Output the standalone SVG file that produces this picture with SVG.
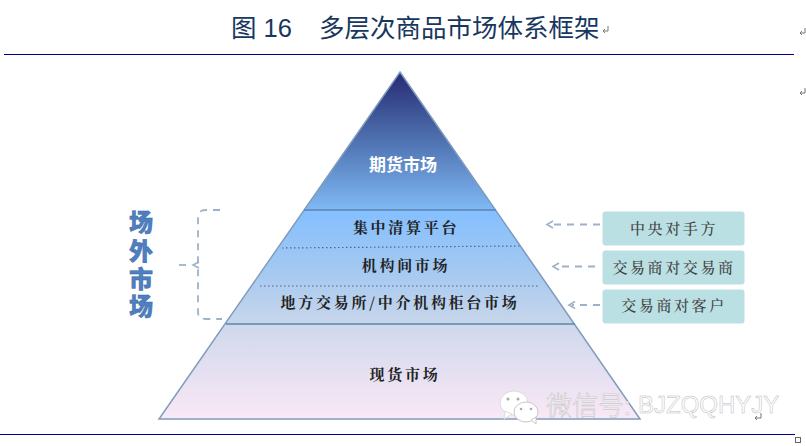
<svg xmlns="http://www.w3.org/2000/svg" width="806" height="446" viewBox="0 0 806 446">
<style>
text{font-family:"Liberation Sans","Noto Sans CJK SC",sans-serif}
.cjk{font-family:"Noto Serif CJK SC","Noto Sans CJK SC",serif;font-weight:700;font-size:15px;fill:#222;text-anchor:middle;letter-spacing:2.7px}
.tag{fill:#bbe0e3;}
.tagt{font-family:"Noto Serif CJK SC","Noto Sans CJK SC",serif;font-weight:500;font-size:15px;fill:#444;text-anchor:middle;letter-spacing:2.6px}
.rule{stroke:#00008b;stroke-width:1;fill:none}
.dash{stroke:#9db2c8;stroke-width:1.8;stroke-dasharray:7 6;fill:none}
.head{stroke:#9db2c8;stroke-width:1.6;fill:none}
.dot{stroke:#3f6b9c;stroke-width:1.2;stroke-dasharray:1.5 2.5;fill:none}
.band{stroke:#5b86ad;stroke-width:1.5;fill:none}
.ret{stroke:#777;stroke-width:1;fill:none}
.side{font-family:"Noto Sans CJK SC",sans-serif;font-weight:900;font-size:24px;fill:#4f7fc0;stroke:#2f5f9f;stroke-width:.4;text-anchor:middle}
.wm{font-family:"Noto Sans CJK SC",sans-serif;font-size:26px;font-weight:300;fill:#fff;stroke:#bbb;stroke-width:.5}
.wml{font-family:"Liberation Sans",sans-serif;font-size:24px;fill:#fff;stroke:#bbb;stroke-width:.5}
</style>
<defs>
<linearGradient id="g1" gradientUnits="userSpaceOnUse" x1="0" y1="72" x2="0" y2="210">
<stop offset="0" stop-color="#262b74"/>
<stop offset=".5" stop-color="#4f72b1"/>
<stop offset="1" stop-color="#7fb9f5"/>
</linearGradient>
<linearGradient id="g2" gradientUnits="userSpaceOnUse" x1="0" y1="210" x2="0" y2="324">
<stop offset="0" stop-color="#84bfff"/>
<stop offset=".5" stop-color="#a2c8f2"/>
<stop offset="1" stop-color="#c8d6ea"/>
</linearGradient>
<linearGradient id="g3" gradientUnits="userSpaceOnUse" x1="0" y1="324" x2="0" y2="419">
<stop offset="0" stop-color="#cfd8ec"/>
<stop offset="1" stop-color="#fae8f6"/>
</linearGradient>
</defs>

<g id="title">
<text x="231" y="37" font-size="25.500" fill="#17375e" xml:space="preserve">图 16<tspan x="319">多层次商品市场体系框架</tspan></text>
<line class="rule" x1="4" y1="54.500" x2="794" y2="54.500"/>
<line class="rule" x1="0" y1="434.500" x2="795" y2="434.500"/>
</g>

<g id="pyramid">
<polygon id="layer-top" points="400,72 304,210 496,210" fill="url(#g1)"/>
<polygon id="layer-mid" points="304,210 496,210 575,324 226,324" fill="url(#g2)"/>
<polygon id="layer-base" points="226,324 575,324 640,419 159,419" fill="url(#g3)"/>
<polygon points="400,72 640,419 159,419" fill="none" stroke="#7f9cbc" stroke-width="1.500"/>
<line class="band" x1="304" y1="210" x2="496" y2="210"/>
<line class="band" x1="226" y1="324" x2="575" y2="324"/>
<line class="dot" x1="282" y1="248" x2="520" y2="246"/>
<line class="dot" x1="260" y1="286" x2="540" y2="286"/>
</g>

<g id="node-futures"><text x="403" y="171" font-size="17" font-weight="700" fill="#fff" text-anchor="middle" style="font-family:'Noto Sans CJK SC',sans-serif">期货市场</text></g>
<g id="node-clearing"><text class="cjk" x="406" y="233">集中清算平台</text></g>
<g id="node-interdealer"><text class="cjk" x="406" y="271">机构间市场</text></g>
<g id="node-otc"><text class="cjk" x="400" y="308">地方交易所/中介机构柜台市场</text></g>
<g id="node-spot"><text class="cjk" x="405" y="380">现货市场</text></g>

<g id="node-side">
<text class="side"><tspan x="141" y="231">场</tspan><tspan x="141" y="260">外</tspan><tspan x="141" y="288">市</tspan><tspan x="141" y="315">场</tspan></text>
</g>

<g id="node-ccp"><rect class="tag" x="602.500" y="211.500" width="142" height="34" rx="3"/><text class="tagt" x="674" y="234">中央对手方</text></g>
<g id="node-d2d"><rect class="tag" x="602.500" y="250.500" width="142" height="34" rx="3"/><text class="tagt" x="674" y="273">交易商对交易商</text></g>
<g id="node-d2c"><rect class="tag" x="602.500" y="289.500" width="142" height="34" rx="3"/><text class="tagt" x="674" y="311">交易商对客户</text></g>

<g id="connectors">
<path class="dash" d="M220 210H206Q198 210 198 217V312Q198 319 206 319H222"/>
<path class="dash" d="M179 265H188"/>
<path class="head" d="M199 262L193 265L199 268"/>
<path class="dash" d="M600 224.500H550"/>
<path class="head" d="M553 221L547 224.500L553 228"/>
<path class="dash" d="M595 266.500H556"/>
<path class="head" d="M559 263L553 266.500L559 270"/>
<path class="dash" d="M600 305H572"/>
<path class="head" d="M575 301.500L569 305L575 308.500"/>
</g>

<g id="watermark">
<ellipse cx="514" cy="403" rx="14" ry="12" fill="#fff" stroke="#dcdcdc"/>
<path d="M505 411L504 419L512 414Z" fill="#fff" stroke="#dcdcdc"/>
<ellipse cx="526" cy="412" rx="12" ry="10" fill="#fff" stroke="#c8c8c8"/>
<path d="M531 420L536 424L536 417Z" fill="#fff" stroke="#c8c8c8"/>
<circle cx="508" cy="399" r="1.500" fill="#aaa"/><circle cx="518" cy="399" r="1.500" fill="#aaa"/>
<circle cx="521" cy="409" r="1.300" fill="#aaa"/><circle cx="531" cy="409" r="1.300" fill="#aaa"/>
<text class="wm" x="546" y="415">微信号:</text>
<text class="wml" x="638" y="413">BJZQQHYJY</text>
</g>

<g id="marks">
<path class="ret" d="M608 26V31H603M605 29L603 31L605 33"/>
<path class="ret" d="M805 28V33H800M802 31L800 33L802 35"/>
<path class="ret" d="M805 88V93H800M802 91L800 93L802 95"/>
<path class="ret" d="M761 413V418H755M757 416L755 418L757 420"/>
<rect x="795.500" y="437.500" width="5" height="5" fill="none" stroke="#666"/>
</g>
</svg>
